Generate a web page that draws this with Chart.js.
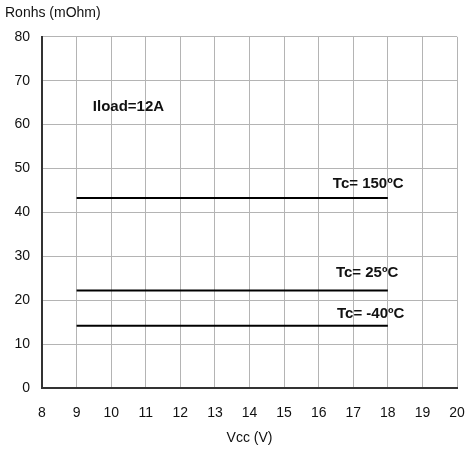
<!DOCTYPE html>
<html>
<head>
<meta charset="utf-8">
<script src="https://cdn.jsdelivr.net/npm/chart.js@4/dist/chart.umd.min.js"></script>
<style>
html,body{margin:0;padding:0;background:#fff;}
#wrap{width:472px;height:452px;position:relative;}
</style>
</head>
<body>
<div id="wrap"><canvas id="c" width="472" height="452"></canvas></div>
<script>
// ---- data ----
const xTicks = [8, 9, 10, 11, 12, 13, 14, 15, 16, 17, 18, 19, 20];
const yTicks = [0, 10, 20, 30, 40, 50, 60, 70, 80];
const vccRange = [9, 18];
const tc150 = [43.3, 43.3];
const tc25 = [22.2, 22.2];
const tcm40 = [14.2, 14.2];
const labelTexts = ["Iload=12A", "Tc= 150ºC", "Tc= 25ºC", "Tc= -40ºC"];
const labelX = [9.47, 16.41, 16.5, 16.53];
const labelY = [64, 46.5, 26.2, 16.9];

const FONT = "'Liberation Sans', Arial, Helvetica, sans-serif";

function pts(ys) { return vccRange.map((x, i) => ({ x: x, y: ys[i] })); }

const textPlugin = {
  id: 'textLabels',
  afterDatasetsDraw(chart) {
    const ctx = chart.ctx;
    const xs = chart.scales.x, ys = chart.scales.y;
    ctx.save();
    ctx.fillStyle = '#111';
    ctx.font = "bold 15px " + FONT;
    ctx.textAlign = 'left';
    ctx.textBaseline = 'middle';
    labelTexts.forEach((t, i) => {
      ctx.fillText(t, xs.getPixelForValue(labelX[i]), ys.getPixelForValue(labelY[i]));
    });
    ctx.restore();
  }
};

const lineStyle = { borderColor: '#000', borderWidth: 2, pointRadius: 0, fill: false, tension: 0 };

new Chart(document.getElementById('c'), {
  type: 'line',
  data: {
    datasets: [
      Object.assign({ label: 'Tc=150', data: pts(tc150) }, lineStyle),
      Object.assign({ label: 'Tc=25', data: pts(tc25) }, lineStyle),
      Object.assign({ label: 'Tc=-40', data: pts(tcm40) }, lineStyle)
    ]
  },
  options: {
    responsive: false,
    animation: false,
    layout: { padding: { left: 5, right: 15, top: 0, bottom: 0 } },
    plugins: {
      legend: { display: false },
      tooltip: { enabled: false },
      title: {
        display: true,
        text: 'Ronhs (mOhm)',
        align: 'start',
        color: '#111',
        font: { family: FONT, size: 14, weight: 'normal' },
        padding: { top: 5, bottom: 15 }
      }
    },
    scales: {
      x: {
        type: 'linear',
        min: xTicks[0],
        max: xTicks[xTicks.length - 1],
        afterBuildTicks: (s) => { s.ticks = xTicks.map(v => ({ value: v })); },
        ticks: { color: '#111', font: { family: FONT, size: 14 }, padding: 17, maxRotation: 0, autoSkip: false },
        grid: { color: '#b4b4b4', lineWidth: 1, drawTicks: false },
        border: { color: '#333', width: 2 },
        title: { display: true, text: 'Vcc (V)', color: '#111', font: { family: FONT, size: 14 }, padding: { top: 2, bottom: 5 } },
        afterFit: (s) => { s.height = 64; s.paddingLeft = 0; s.paddingRight = 0; }
      },
      y: {
        type: 'linear',
        min: yTicks[0],
        max: yTicks[yTicks.length - 1],
        afterBuildTicks: (s) => { s.ticks = yTicks.map(v => ({ value: v })); },
        ticks: { color: '#111', font: { family: FONT, size: 14 }, padding: 12, autoSkip: false },
        grid: { color: '#b4b4b4', lineWidth: 1, drawTicks: false },
        border: { color: '#333', width: 2 },
        afterFit: (s) => { s.width = 37; s.paddingTop = 0; s.paddingBottom = 0; }
      }
    }
  },
  plugins: [textPlugin]
});
</script>
</body>
</html>
